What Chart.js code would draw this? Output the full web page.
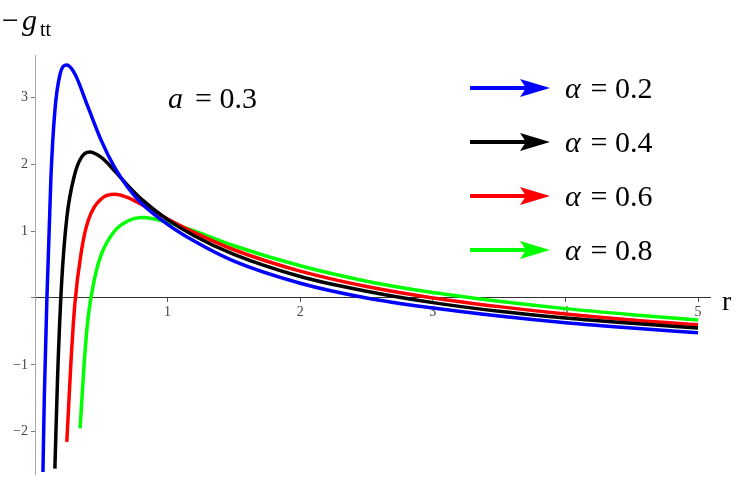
<!DOCTYPE html><html><head><script src="https://cdn.jsdelivr.net/npm/chart.js@4"></script>
<style>body{margin:0;background:#fff}#w{width:747px;height:486px}</style></head><body><div id="w"><canvas id="c"></canvas></div>
<script>
const labels=['α = 0.2','α = 0.4','α = 0.6','α = 0.8'];
const colors=['#0000ff','#000000','#ff0000','#00ff00'];
const xTicks=[0,1,2,3,4,5];
const yTicks=[-2,-1,0,1,2,3];
const blue=[[0.06,-2.6],[0.07,-1.5],[0.09,0],[0.12,1.8],[0.15,2.8],[0.19,3.35],[0.24,3.48],[0.3,3.35],[0.4,2.85],[0.5,2.35],[0.6,1.95],[0.7,1.65],[0.8,1.42],[1,1.1],[1.2,0.85],[1.5,0.55],[2,0.22],[2.5,0],[3,-0.15],[3.5,-0.27],[4,-0.37],[4.5,-0.45],[5,-0.52]];
const black=[[0.15,-2.55],[0.17,-1.2],[0.2,0.2],[0.24,1.2],[0.3,1.85],[0.35,2.1],[0.41,2.18],[0.5,2.1],[0.6,1.9],[0.7,1.68],[0.8,1.48],[1,1.17],[1.2,0.93],[1.5,0.65],[2,0.32],[2.5,0.1],[3,-0.07],[3.5,-0.2],[4,-0.3],[4.5,-0.38],[5,-0.45]];
const red=[[0.24,-2.15],[0.27,-1],[0.3,-0.1],[0.35,0.7],[0.4,1.15],[0.5,1.48],[0.6,1.55],[0.7,1.5],[0.8,1.4],[1,1.18],[1.2,0.98],[1.5,0.72],[2,0.4],[2.5,0.17],[3,0],[3.5,-0.13],[4,-0.24],[4.5,-0.33],[5,-0.4]];
const green=[[0.34,-1.95],[0.37,-1],[0.4,-0.3],[0.45,0.3],[0.5,0.65],[0.6,1],[0.7,1.15],[0.8,1.2],[0.9,1.18],[1,1.13],[1.2,1],[1.5,0.78],[2,0.48],[2.5,0.25],[3,0.08],[3.5,-0.05],[4,-0.16],[4.5,-0.25],[5,-0.33]];
const series=[blue,black,red,green];
const F='"Liberation Serif", serif';
const deco={id:'deco',afterDraw(ch){const c=ch.ctx;c.save();c.fillStyle='#000';
c.font='italic 30px '+F;c.fillText('a',168,108);c.font='30px '+F;c.fillText('= 0.3',195,108);
c.font='italic 30px '+F;c.fillText('−',0,30);c.fillText('g',22,30);c.font='20px '+F;c.fillText('tt',40,36);
c.font='28px '+F;c.fillText('r',722,310);
labels.forEach((l,i)=>{const y=88+54*i;c.strokeStyle=colors[i];c.fillStyle=colors[i];c.lineWidth=4;
c.beginPath();c.moveTo(470,y);c.lineTo(530,y);c.stroke();c.beginPath();c.moveTo(550,y);c.lineTo(520,y-9);c.lineTo(526,y);c.lineTo(520,y+9);c.closePath();c.fill();
c.fillStyle='#000';c.font='italic 30px '+F;c.fillText('α',565,y+10);c.font='30px '+F;c.fillText(l.slice(1),583,y+10);});
c.restore();}};
new Chart(document.getElementById('c'),{type:'line',
data:{datasets:series.map((s,i)=>({data:s.map(p=>({x:p[0],y:p[1]})),borderColor:colors[i],borderWidth:3.5,pointRadius:0,tension:0.4,cubicInterpolationMode:'monotone',fill:false}))},
options:{responsive:true,maintainAspectRatio:false,animation:false,layout:{padding:{top:55,bottom:11,right:37,left:0}},
plugins:{legend:{display:false},tooltip:{enabled:false}},
scales:{x:{type:'linear',min:0,max:5.09,position:{y:0},border:{color:'#333'},grid:{drawOnChartArea:false,tickLength:4,color:'#555'},
ticks:{color:'#444',font:{family:F,size:14},padding:2,callback:v=>v>0?String(v):''},afterBuildTicks:s=>{s.ticks=xTicks.map(v=>({value:v}))}},
y:{min:-2.64,max:3.63,border:{color:'#aaa'},grid:{drawOnChartArea:false,tickLength:4,color:'#777'},afterFit:s=>{s.width=35},
ticks:{color:'#444',font:{family:F,size:14},callback:v=>v===0?'':(v<0?'−'+(-v):String(v))},afterBuildTicks:s=>{s.ticks=yTicks.map(v=>({value:v}))}}}},
plugins:[deco]});
</script></body></html>
